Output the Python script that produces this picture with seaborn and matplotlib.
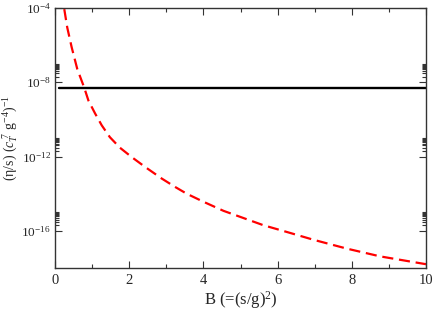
import matplotlib
matplotlib.use("Agg")
import numpy as np
import pandas as pd
import seaborn as sns
import matplotlib.pyplot as plt
from matplotlib.ticker import FixedLocator, FuncFormatter, MultipleLocator

# ---- data ----
B_red = [0.25, 0.33, 0.45, 0.60, 0.79, 0.90, 1.08, 1.26, 1.48, 1.75, 2.07, 2.43,
         2.88, 3.24, 3.55, 4.00, 4.54, 5.08, 5.62, 6.25, 6.97, 7.87, 8.77, 10.0]
eta_red = [8.7e-5, 8.9e-6, 7.6e-7, 5.2e-8, 5.0e-9, 1.05e-9, 2.1e-10, 4.8e-11,
           1.1e-11, 3.0e-12, 9.3e-13, 2.75e-13, 6.5e-14, 2.3e-14, 1.0e-14, 3.7e-15,
           1.2e-15, 4.9e-16, 2.0e-16, 8.7e-17, 3.3e-17, 1.1e-17, 4.2e-18, 1.6e-18]
B_black = [0.12, 10.0]
eta_black = [5.0e-9, 5.0e-9]

x_major = [0, 2, 4, 6, 8, 10]
y_major = [1e-16, 1e-12, 1e-8, 1e-4]

df_red = pd.DataFrame({"B": B_red, "eta": eta_red})
df_black = pd.DataFrame({"B": B_black, "eta": eta_black})

sns.set_style("ticks")
plt.rcParams["font.family"] = ["Liberation Serif", "DejaVu Serif"]
plt.rcParams["mathtext.fontset"] = "custom"
plt.rcParams["mathtext.rm"] = "Liberation Serif"
plt.rcParams["mathtext.it"] = "Liberation Serif:italic"
plt.rcParams["mathtext.bf"] = "Liberation Serif:bold"

fig = plt.figure(figsize=(4.36, 3.13), dpi=100)
ax = fig.add_axes([55 / 436, 1 - 268 / 313, (426 - 55) / 436, (268 - 8) / 313])

sns.lineplot(data=df_black, x="B", y="eta", ax=ax, color="black", lw=1.7)
sns.lineplot(data=df_red, x="B", y="eta", ax=ax, color="#ff0000", lw=1.6,
             linestyle=(0, (5, 2.6)))

ax.set_yscale("log")
ax.set_xlim(0, 10)
ax.set_ylim(1e-18, 1e-4)

ax.xaxis.set_major_locator(FixedLocator(x_major))
ax.xaxis.set_minor_locator(MultipleLocator(1))
ax.set_xticklabels([str(v) for v in x_major])
ax.yaxis.set_major_locator(FixedLocator(y_major))
ax.yaxis.set_minor_locator(FixedLocator([k * 10.0 ** e for e in (-8, -12, -16) for k in range(2, 11)]))
ax.yaxis.set_major_formatter(FuncFormatter(lambda v, p: r"$10^{%d}$" % int(round(np.log10(v)))))
ax.yaxis.set_minor_formatter(FuncFormatter(lambda v, p: ""))

ax.tick_params(which="both", direction="in", top=True, right=True, width=0.8, color="#333333")
ax.tick_params(which="major", length=5)
ax.tick_params(which="minor", length=3)
ax.tick_params(axis="x", labelsize=10.5, pad=4)
ax.tick_params(axis="y", labelsize=9.5, pad=3)
for s in ax.spines.values():
    s.set_color("#333333")
    s.set_linewidth(1.0)

ax.set_xlabel(r"B (=(s/g)$^{2}$)", fontsize=12, labelpad=2)
ax.set_ylabel(r"(η/s) ($c_T^{\ 7}$ g$^{-4}$)$^{-1}$", fontsize=10, labelpad=0)
ax.yaxis.set_label_coords(-0.093, 0.5)

fig.savefig("out.png", dpi=100)
